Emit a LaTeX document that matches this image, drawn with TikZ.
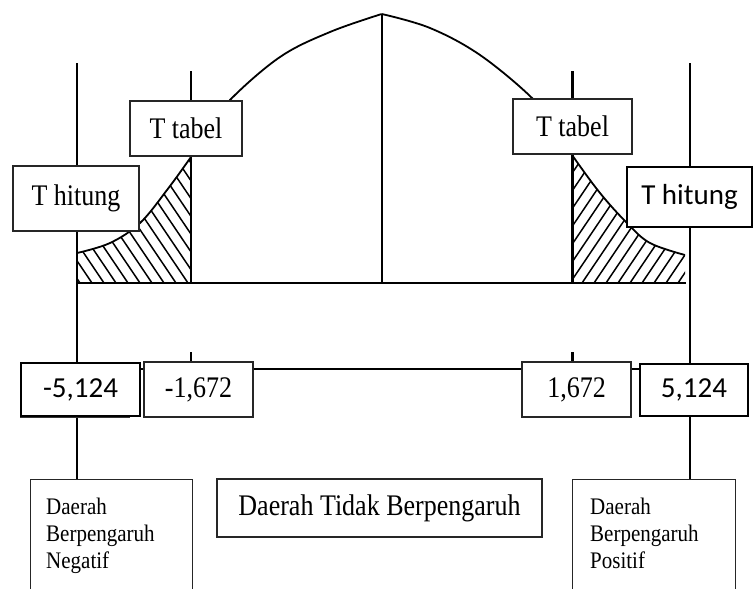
\documentclass[tikz,border=0pt]{standalone}
\usepackage{graphicx}
\usepackage{fontspec}
\setmainfont{Liberation Serif}
\newfontfamily\calib{Carlito}
\newcommand{\vst}[1]{\scalebox{1}[1.15]{#1}}
\begin{document}
\begin{tikzpicture}[x=1pt,y=-1pt,
  tbox/.style={draw=black!85, fill=white, line width=1.3pt, inner sep=0pt, font=\fontsize{26}{30}\selectfont},
  sbox/.style={draw, fill=white, line width=1.4pt, inner sep=0pt, font=\calib\fontsize{29}{33}\selectfont},
  sidetext/.style={anchor=north west, inner sep=0pt, font=\fontsize{21}{24}\selectfont},
  axisline/.style={line width=2.2pt},
  curveline/.style={line width=1.8pt},
  hatchline/.style={line width=1.5pt}]
\useasboundingbox (0,0) rectangle (756,589);

% hatched tails
\begin{scope}
  \clip plot[smooth, tension=0.6] coordinates {(77,253) (110,243) (140,223) (167,190) (191,157)} -- (191,283) -- (77,283) -- cycle;
  \foreach \a in {-90,-78,...,200} \draw[hatchline] (\a,120) -- ++(110,163);
\end{scope}
\begin{scope}
  \clip plot[smooth, tension=0.6] coordinates {(572,155) (600,193) (627,223) (650,243) (685,255)} -- (685,283) -- (572,283) -- cycle;
  \foreach \a in {560,572,...,850} \draw[hatchline] (\a,120) -- ++(-110,163);
\end{scope}

% normal curve
\draw[curveline] plot[smooth, tension=0.6] coordinates {(77,253) (110,243) (140,223) (167,190) (191,157) (212,127) (230,100) (280,57) (330,32) (381.7,14)};
\draw[curveline] plot[smooth, tension=0.6] coordinates {(381.7,14) (430,28) (480,55) (532,98) (552,126) (572,155) (600,193) (627,223) (650,243) (685,255)};

% coordinates
\coordinate (peak) at (381.7,14);
\coordinate (ltop) at (77,63);
\coordinate (rtop) at (690,63);
\coordinate (lttop) at (191,71);
\coordinate (rttop) at (572.5,71);
\coordinate (bl) at (77,283);
\coordinate (br) at (686,283);
\coordinate (h1) at (130,369);
\coordinate (h2) at (645,369);
\coordinate (lt) at (191,352);
\coordinate (rt) at (572.5,352);

% bottom boxes (open at bottom)
\node[draw=black!85, line width=1.3pt, anchor=north west, minimum width=162pt, minimum height=130pt, inner sep=0pt] (dn) at (30,479) {};
\node[draw=black!85, line width=1.3pt, anchor=north west, minimum width=163pt, minimum height=130pt, inner sep=0pt] (dp) at (572,479) {};
\node[tbox, minimum width=325pt, minimum height=58pt] (dt) at (379.5,508) {\vst{Daerah Tidak Berpengaruh}};
\node[sidetext] (dntext) at (46,495) {\scalebox{1}[1.13]{\begin{tabular}{@{}l@{}}Daerah\\Berpengaruh\\Negatif\end{tabular}}};
\node[sidetext] (dptext) at (590,495) {\scalebox{1}[1.13]{\begin{tabular}{@{}l@{}}Daerah\\Berpengaruh\\Positif\end{tabular}}};

% axes and lines
\draw[axisline] (bl) -- (br);
\draw[axisline] (peak) -- (peak |- bl);
\draw[axisline] (lttop) -- (lttop |- bl);
\draw[axisline] (rttop) -- (rttop |- bl);
\draw[axisline] (ltop) -- (ltop |- dn.north);
\draw[axisline] (rtop) -- (rtop |- dp.north);
\draw[line width=2pt] (h1) -- (h2);

% value boxes
\draw[line width=1pt, black!80] (20,364) rectangle (129,417.5);
\node[sbox, minimum width=119pt, minimum height=53pt] (m5) at (80.5,389.5) {-5,124};
\node[tbox, minimum width=109pt, minimum height=55pt] (m1) at (198.5,389.5) {\vst{-1,672}};
\node[tbox, minimum width=109pt, minimum height=55pt] (p1) at (576.5,389.5) {\vst{1,672}};
\node[sbox, minimum width=108pt, minimum height=52pt] (p5) at (694,390) {5,124};
\draw[axisline] (lt) -- (lt |- m1.north);
\draw[axisline] (rt) -- (rt |- p1.north);

% label boxes
\node[tbox, minimum width=112pt, minimum height=55pt] (ttl) at (186,128.5) {\vst{T tabel}};
\node[tbox, minimum width=119pt, minimum height=55pt] (ttr) at (572.5,126.5) {\vst{T tabel}};
\node[tbox, minimum width=126pt, minimum height=65pt] (thl) at (76,198.5) {\vst{T hitung}};
\node[sbox, minimum width=125pt, minimum height=60pt] (thr) at (689.5,197) {T hitung};
\end{tikzpicture}
\end{document}
